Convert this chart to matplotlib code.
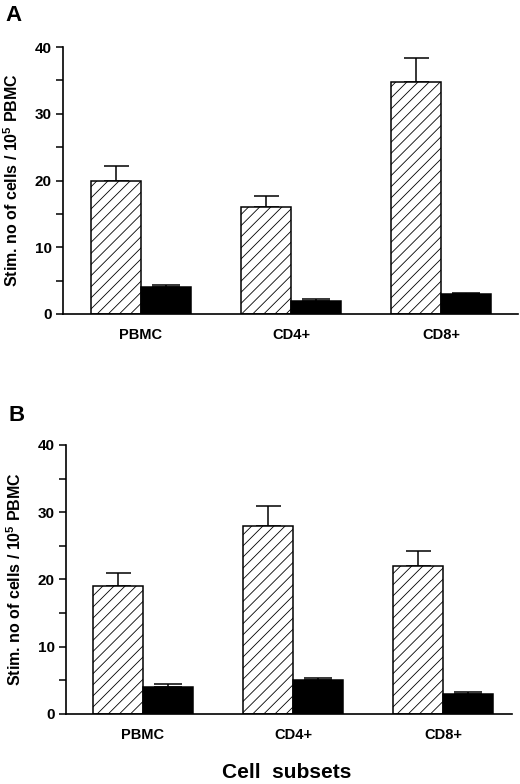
import matplotlib
matplotlib.use("Agg")
import matplotlib.pyplot as plt
import numpy as np

plt.rcParams['font.family'] = ['Liberation Sans', 'DejaVu Sans']
plt.rcParams['font.weight'] = 'bold'
plt.rcParams['mathtext.fontset'] = 'custom'
plt.rcParams['mathtext.rm'] = 'Liberation Sans:bold'
plt.rcParams['mathtext.default'] = 'rm'
plt.rcParams['hatch.linewidth'] = 0.6

subsets = ["PBMC", "CD4+", "CD8+"]

# panel A
a_stim = [20.0, 16.0, 34.8]
a_stim_err = [2.2, 1.7, 3.6]
a_ctrl = [4.0, 2.0, 3.0]
a_ctrl_err = [0.4, 0.2, 0.2]

# panel B
b_stim = [19.0, 28.0, 22.0]
b_stim_err = [1.9, 2.9, 2.2]
b_ctrl = [4.0, 5.0, 3.0]
b_ctrl_err = [0.4, 0.4, 0.2]

fig = plt.figure(figsize=(5.2, 7.84), dpi=100)
ax_a = fig.add_axes([0.121, 0.5995, 0.875, 0.3405])
ax_b = fig.add_axes([0.127, 0.0893, 0.858, 0.3431])

w = 1 / 3
x = np.arange(len(subsets))


def draw(ax, stim, stim_err, ctrl, ctrl_err, xlim):
    ax.bar(x - w / 2, stim, w, color='white', edgecolor='black',
           hatch='///', linewidth=1.1, zorder=2)
    ax.bar(x + w / 2, ctrl, w, color='black', edgecolor='black',
           linewidth=1.1, zorder=2)
    ax.errorbar(x - w / 2, stim, yerr=[np.zeros(3), stim_err], fmt='none',
                ecolor='black', elinewidth=1.1, capsize=9, capthick=1.1,
                zorder=1)
    ax.errorbar(x + w / 2, ctrl, yerr=[np.zeros(3), ctrl_err], fmt='none',
                ecolor='black', elinewidth=1.1, capsize=10, capthick=1.1,
                zorder=1)
    ax.set_ylim(0, 40)
    ax.set_xlim(*xlim)
    ax.set_yticks([0, 10, 20, 30, 40])
    ax.set_yticks([5, 15, 25, 35], minor=True)
    ax.set_xticks(x)
    ax.set_xticklabels(subsets, fontsize=10.5, fontweight='bold')
    ax.tick_params(axis='x', length=0, pad=10)
    ax.tick_params(axis='y', which='both', length=5, width=1.1,
                   labelsize=11, pad=3)
    for lab in ax.get_yticklabels():
        lab.set_fontweight('bold')
    for s in ['top', 'right']:
        ax.spines[s].set_visible(False)
    for s in ['left', 'bottom']:
        ax.spines[s].set_linewidth(1.2)
    ax.set_ylabel("Stim. no of cells / 10$^{5}$ PBMC", fontsize=11.5,
                  fontweight='bold', labelpad=10)


draw(ax_a, a_stim, a_stim_err, a_ctrl, a_ctrl_err, (-0.52, 2.51))
draw(ax_b, b_stim, b_stim_err, b_ctrl, b_ctrl_err, (-0.513, 2.46))

fig.text(0.01, 0.993, "A", fontsize=16, fontweight='bold', va='top')
fig.text(0.017, 0.483, "B", fontsize=16, fontweight='bold', va='top')
fig.text(0.552, 0.002, "Cell  subsets", fontsize=15, fontweight='bold',
         ha='center', va='bottom')

fig.savefig("out.png", dpi=100)
